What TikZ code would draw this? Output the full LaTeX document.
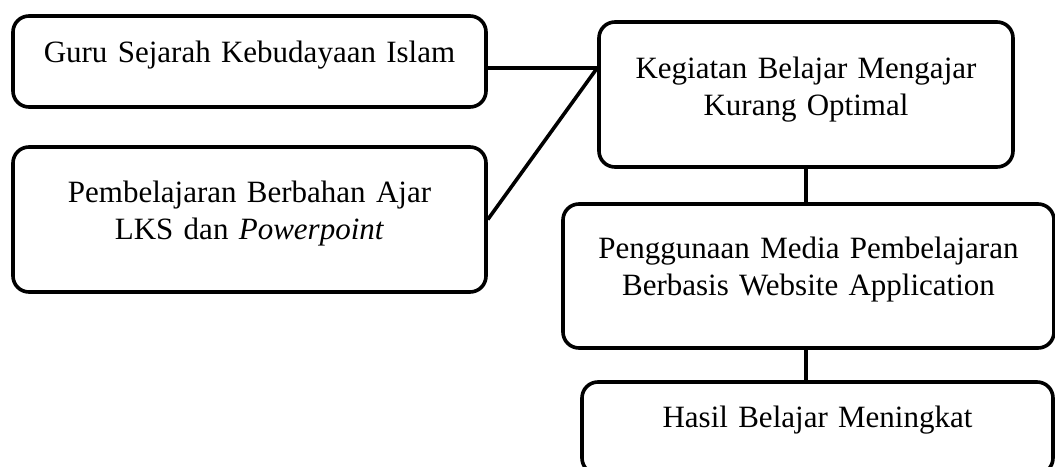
\documentclass[tikz,border=0pt]{standalone}
\usepackage{fontspec}
\setmainfont{Liberation Serif}
\usetikzlibrary{positioning,calc}

\begin{document}
\begin{tikzpicture}[x=1pt,y=-1pt,font=\fontsize{31}{37}\selectfont,
  kotak/.style={draw,line width=3.6pt,rounded corners=16pt,inner sep=0pt,align=center,text height=22pt},
  garis/.style={line width=3.6pt}]
  \useasboundingbox (0,0) rectangle (1055,466);
  % kiri
  \node[kotak,minimum width=473pt,minimum height=91pt,text width=440pt,text depth=20pt] (guru) at (249.5,61.5) {Guru Sejarah Kebudayaan Islam};
  \node[kotak,minimum width=473pt,minimum height=145pt,text width=440pt,text depth=57pt] (lks) at (249.5,219.5) {Pembelajaran Berbahan Ajar\\LKS dan \textit{Powerpoint}};
  % kanan
  \node[kotak,minimum width=414pt,minimum height=145pt,text width=390pt,text depth=55pt] (kbm) at (806,94.5) {Kegiatan Belajar Mengajar\\Kurang Optimal};
  \node[kotak,minimum width=491pt,minimum height=144pt,text width=465pt,text depth=58pt] (media) at (808.5,276) {Penggunaan Media Pembelajaran\\Berbasis Website Application};
  \node[kotak,minimum width=471pt,minimum height=92pt,text width=440pt,text depth=24pt] (hasil) at (817.5,428) {Hasil Belajar Meningkat};
  % garis
  \coordinate (hub) at ([yshift=26.5pt]kbm.west);
  \draw[garis] (guru.east |- hub) -- (hub);
  \draw[garis] (lks.east) -- (hub);
  \draw[garis] (kbm.south) -- (kbm.south |- media.north);
  \draw[garis] (media.south -| kbm.south) -- (hasil.north -| kbm.south);
\end{tikzpicture}
\end{document}
